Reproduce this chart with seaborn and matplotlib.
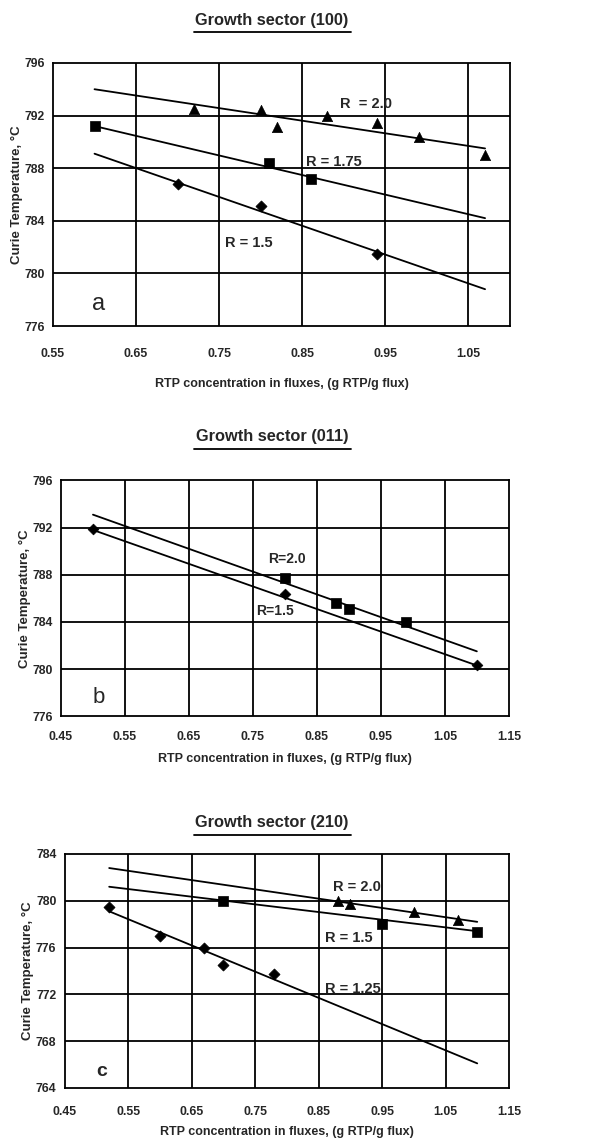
import numpy as np
import pandas as pd
import matplotlib
matplotlib.use("Agg")
import matplotlib.pyplot as plt
from matplotlib.lines import Line2D
import seaborn as sns

# ---- panel a: growth sector (100) ----
a_tri_x = [0.72, 0.80, 0.82, 0.88, 0.94, 0.99, 1.07]
a_tri_y = [792.5, 792.4, 791.1, 792.0, 791.4, 790.4, 789.0]
a_sq_x = [0.60, 0.81, 0.86]
a_sq_y = [791.2, 788.4, 787.2]
a_dia_x = [0.70, 0.80, 0.94]
a_dia_y = [786.8, 785.1, 781.5]
a_fit_x = [0.60, 1.07]
a_fit_tri = [794.0, 789.5]
a_fit_sq = [791.2, 784.2]
a_fit_dia = [789.1, 778.8]

# ---- panel b: growth sector (011) ----
b_sq_x = [0.80, 0.88, 0.90, 0.99]
b_sq_y = [787.7, 785.6, 785.1, 784.0]
b_dia_x = [0.50, 0.80, 1.10]
b_dia_y = [791.9, 786.4, 780.3]
b_fit_x = [0.50, 1.10]
b_fit_sq = [793.1, 781.5]
b_fit_dia = [791.8, 780.3]

# ---- panel c: growth sector (210) ----
c_tri_x = [0.88, 0.90, 1.00, 1.07]
c_tri_y = [780.0, 779.7, 779.0, 778.4]
c_sq_x = [0.70, 0.95, 1.10]
c_sq_y = [780.0, 778.0, 777.3]
c_dia_x = [0.52, 0.60, 0.67, 0.70, 0.78]
c_dia_y = [779.5, 777.0, 776.0, 774.5, 773.7]
c_fit_x = [0.52, 1.10]
c_fit_tri = [782.8, 778.2]
c_fit_sq = [781.2, 777.4]
c_fit_dia = [779.1, 766.1]

sns.set_style("white")
plt.rcParams['font.family'] = ['Liberation Sans', 'DejaVu Sans']

fig = plt.figure(figsize=(6.11, 11.44), dpi=100)

xlabel = "RTP concentration in fluxes, (g RTP/g flux)"
ylabel = "Curie Temperature, \u00b0C"

def style_axes(ax, xlim, xticks, xgrid, ylim, yticks, xpad, xlpad):
    ax.set_xlim(xlim)
    ax.set_ylim(ylim)
    ax.set_xticks(xticks)
    ax.set_xticklabels(["%.2f" % t for t in xticks])
    ax.set_yticks(yticks)
    ax.set_yticklabels(["%d" % t for t in yticks])
    for g in xgrid:
        ax.axvline(g, color='k', lw=1.3, zorder=1)
    for g in yticks[1:-1]:
        ax.axhline(g, color='k', lw=1.3, zorder=1)
    for sp in ax.spines.values():
        sp.set_color('k')
        sp.set_linewidth(1.3)
    ax.tick_params(length=0, labelsize=8.8)
    ax.tick_params(axis='x', pad=xpad)
    ax.tick_params(axis='y', pad=6)
    for lab in ax.get_xticklabels() + ax.get_yticklabels():
        lab.set_fontweight('bold')
    ax.set_ylabel(ylabel, fontsize=9.5, fontweight='bold', labelpad=1)
    ax.set_xlabel(xlabel, fontsize=9, fontweight='bold', labelpad=xlpad)

def points(ax, x, y, marker, s):
    sns.scatterplot(x=x, y=y, marker=marker, color='k', edgecolor='k',
                    s=s, ax=ax, zorder=4, linewidth=0.5)

def fit(ax, x, y):
    sns.lineplot(x=x, y=y, color='k', lw=1.3, ax=ax, zorder=3)

def title(ypix, text):
    yf = 1 - ypix / 1144
    fig.text(0.445, yf, text, ha='center', va='center', fontsize=11.8,
             fontweight='bold')
    yl = yf - 12 / 1144
    fig.add_artist(Line2D([194 / 611, 351 / 611], [yl, yl], color='k', lw=1.3))

# panel a
ax1 = fig.add_axes([0.0867, 0.715, 0.748, 0.230])
fit(ax1, a_fit_x, a_fit_tri)
fit(ax1, a_fit_x, a_fit_sq)
fit(ax1, a_fit_x, a_fit_dia)
points(ax1, a_tri_x, a_tri_y, '^', 55)
points(ax1, a_sq_x, a_sq_y, 's', 45)
points(ax1, a_dia_x, a_dia_y, 'D', 32)
style_axes(ax1, (0.55, 1.10), [0.55, 0.65, 0.75, 0.85, 0.95, 1.05],
           [0.65, 0.75, 0.85, 0.95, 1.05], (776, 796), [776, 780, 784, 788, 792, 796],
           16, 13)
ax1.text(0.895, 792.9, "R  = 2.0", fontsize=10.5, fontweight='bold', va='center', zorder=5)
ax1.text(0.855, 788.5, "R = 1.75", fontsize=10.5, fontweight='bold', va='center', zorder=5)
ax1.text(0.757, 782.3, "R = 1.5", fontsize=10.5, fontweight='bold', va='center', zorder=5)
ax1.text(0.597, 777.7, "a", fontsize=17, va='center')
title(20, "Growth sector (100)")

# panel b
ax2 = fig.add_axes([0.0998, 0.374, 0.733, 0.206])
fit(ax2, b_fit_x, b_fit_sq)
fit(ax2, b_fit_x, b_fit_dia)
points(ax2, b_sq_x, b_sq_y, 's', 45)
points(ax2, b_dia_x, b_dia_y, 'D', 30)
style_axes(ax2, (0.45, 1.15), [0.45, 0.55, 0.65, 0.75, 0.85, 0.95, 1.05, 1.15],
           [0.55, 0.65, 0.75, 0.85, 0.95, 1.05], (776, 796), [776, 780, 784, 788, 792, 796],
           11, 7)
ax2.text(0.774, 789.3, "R=2.0", fontsize=10, fontweight='bold', va='center', zorder=5)
ax2.text(0.755, 784.9, "R=1.5", fontsize=10, fontweight='bold', va='center', zorder=5)
ax2.text(0.499, 777.6, "b", fontsize=16, va='center')
title(437, "Growth sector (011)")

# panel c
ax3 = fig.add_axes([0.106, 0.049, 0.727, 0.2045])
fit(ax3, c_fit_x, c_fit_tri)
fit(ax3, c_fit_x, c_fit_sq)
fit(ax3, c_fit_x, c_fit_dia)
points(ax3, c_tri_x, c_tri_y, '^', 55)
points(ax3, c_sq_x, c_sq_y, 's', 45)
points(ax3, c_dia_x, c_dia_y, 'D', 32)
style_axes(ax3, (0.45, 1.15), [0.45, 0.55, 0.65, 0.75, 0.85, 0.95, 1.05, 1.15],
           [0.55, 0.65, 0.75, 0.85, 0.95, 1.05], (764, 784), [764, 768, 772, 776, 780, 784],
           13, 6)
ax3.text(0.873, 781.2, "R = 2.0", fontsize=10.5, fontweight='bold', va='center', zorder=5)
ax3.text(0.86, 776.8, "R = 1.5", fontsize=10.5, fontweight='bold', va='center', zorder=5)
ax3.text(0.86, 772.5, "R = 1.25", fontsize=10.5, fontweight='bold', va='center', zorder=5)
ax3.text(0.499, 765.4, "c", fontsize=14, fontweight='bold', va='center')
title(823, "Growth sector (210)")

fig.savefig("out.png", dpi=100)
